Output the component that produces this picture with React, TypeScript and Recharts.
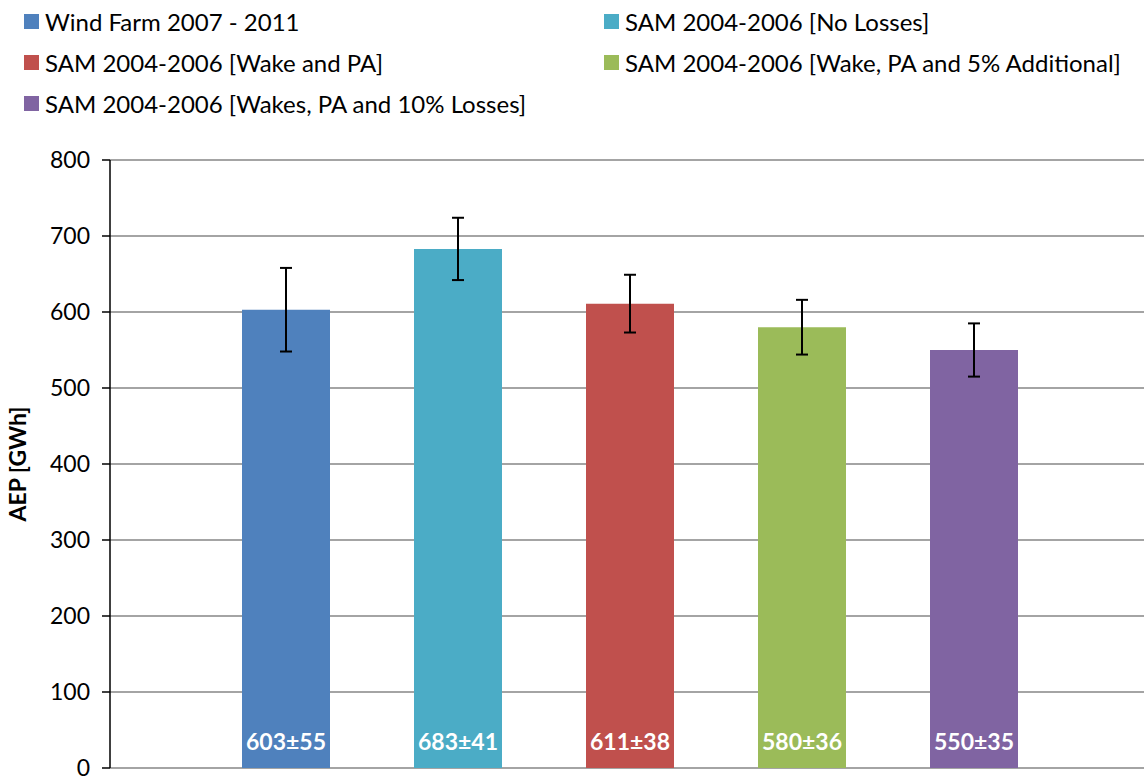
import React from "react";
import { BarChart, Bar, XAxis, YAxis, CartesianGrid, ErrorBar, Cell, LabelList } from "recharts";

const seriesNames = [
  "Wind Farm 2007 - 2011",
  "SAM 2004-2006 [No Losses]",
  "SAM 2004-2006 [Wake and PA]",
  "SAM 2004-2006 [Wake, PA and 5% Additional]",
  "SAM 2004-2006 [Wakes, PA and 10% Losses]",
];
const aepValues = [603, 683, 611, 580, 550];
const aepErrors = [55, 41, 38, 36, 35];
const seriesColors = ["#4F81BD", "#4BACC6", "#C0504D", "#9BBB59", "#8064A2"];
const yTicks = [0, 100, 200, 300, 400, 500, 600, 700, 800];

const data = seriesNames.map((name, i) => ({
  name,
  value: aepValues[i],
  err: aepErrors[i],
  label: `${aepValues[i]}±${aepErrors[i]}`,
}));

const FONT = "Lato, 'Noto Sans', sans-serif";

// legend order: left column rows 0,2,4 ; right column rows 1,3
const legendLayout = [
  { idx: 0, left: 24, top: 14 },
  { idx: 1, left: 604, top: 14 },
  { idx: 2, left: 24, top: 55 },
  { idx: 3, left: 604, top: 55 },
  { idx: 4, left: 24, top: 96 },
];

const BarLabel = (props: any) => {
  const { x, y, width, height, value } = props;
  return (
    <text
      x={x + width / 2}
      y={y + height - 18}
      textAnchor="middle"
      fill="#fff"
      fontWeight="bold"
      fontSize={23}
      fontFamily={FONT}
    >
      {value}
    </text>
  );
};

export default function App() {
  return (
    <div
      style={{
        position: "fixed",
        left: 0,
        top: 0,
        width: 1144,
        height: 777,
        overflow: "hidden",
        background: "#fff",
        fontFamily: FONT,
      }}
    >
      {legendLayout.map(({ idx, left, top }) => (
        <div
          key={idx}
          style={{
            position: "absolute",
            left,
            top,
            height: 15,
            display: "flex",
            alignItems: "center",
            whiteSpace: "nowrap",
          }}
        >
          <div style={{ width: 15, height: 15, background: seriesColors[idx] }} />
          <span style={{ marginLeft: 6, fontSize: 24, color: "#000", lineHeight: "15px" }}>
            {seriesNames[idx]}
          </span>
        </div>
      ))}
      <div style={{ position: "absolute", left: 0, top: 0 }}>
        <BarChart
          width={1144}
          height={777}
          data={data}
          margin={{ top: 160, right: 0, bottom: 9, left: 0 }}
          barSize={88}
        >
          <CartesianGrid vertical={false} stroke="#868686" strokeWidth={1.5} />
          <XAxis
            dataKey="name"
            hide
            padding={{ left: 90, right: 84 }}
          />
          <YAxis
            width={110}
            domain={[0, 800]}
            ticks={yTicks}
            interval={0}
            tick={{ fontSize: 23, fill: "#000", fontFamily: FONT }}
            tickLine={{ stroke: "#000", strokeWidth: 1.5 }}
            axisLine={{ stroke: "#000", strokeWidth: 1.5 }}
            tickSize={8}
            tickMargin={12}
            label={{
              value: "AEP [GWh]",
              angle: -90,
              position: "insideLeft",
              offset: 18,
              style: { fontSize: 23, fontWeight: "bold", fill: "#000", fontFamily: FONT, textAnchor: "middle" },
            }}
          />
          <Bar dataKey="value" isAnimationActive={false}>
            {data.map((d, i) => (
              <Cell key={d.name} fill={seriesColors[i]} />
            ))}
            <ErrorBar dataKey="err" width={6} stroke="#000" strokeWidth={2} direction="y" />
            <LabelList dataKey="label" content={BarLabel} />
          </Bar>
        </BarChart>
      </div>
    </div>
  );
}
